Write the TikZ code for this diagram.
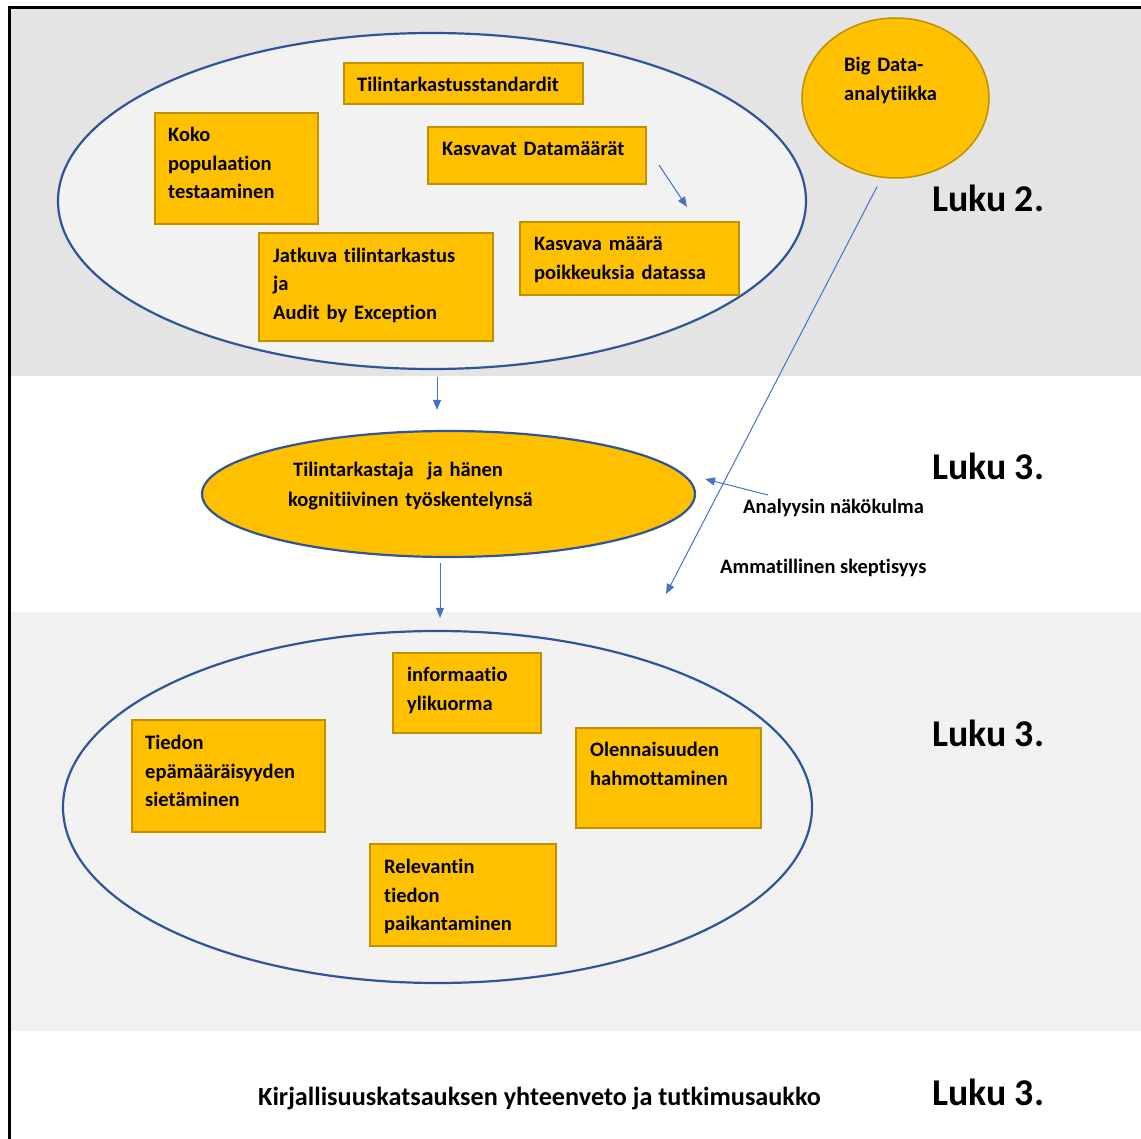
\documentclass[tikz,border=0pt]{standalone}
\usepackage{fontspec}
\setmainfont{Carlito}[Ligatures=NoCommon]
\usetikzlibrary{shapes.geometric,arrows.meta}

\definecolor{bandgray}{HTML}{E4E4E4}
\definecolor{bandlight}{HTML}{F1F1F1}
\definecolor{ovalfill}{HTML}{F2F2F2}
\definecolor{amber}{HTML}{FFC000}
\definecolor{amberdark}{HTML}{BF9000}
\definecolor{navy}{HTML}{2F5597}
\definecolor{arrowblue}{HTML}{4472C4}

% a card: name, top-left x, top-left y, bottom-right x, bottom-right y
\newcommand\mycard[5]{%
  \node[card, minimum width={#4-#2}, minimum height={#5-#3}] (#1) at (#2,#3) {};}

\begin{document}
\begin{tikzpicture}[x=1pt, y=-1pt,
  card/.style={draw=amberdark, fill=amber, line width=2pt, anchor=north west, inner sep=0pt},
  cardtext/.style={anchor=base west, inner sep=0pt, text width=300pt, align=left,
    font=\fontsize{20.5}{28.5}\selectfont\bfseries},
  plain/.style={anchor=base west, inner sep=0pt, font=\fontsize{20.5}{24}\selectfont\bfseries},
  chapter/.style={anchor=base west, inner sep=0pt, font=\fontsize{37.8}{40}\selectfont\bfseries},
  oval/.style={ellipse, inner sep=0pt, line width=2.2pt},
  link/.style={draw=arrowblue, line width=1pt, -{Triangle[length=10pt, width=8pt]}}]

\useasboundingbox (0,0) rectangle (1141,1139);

% horizontal bands and frame
\fill[bandgray] (10,9) rectangle (1141,376);
\fill[bandlight] (10,612) rectangle (1141,1031);
\draw[line width=3pt] (9,1139) -- (9,8) -- (1141,8);

% upper group
\node[oval, draw=navy, fill=ovalfill, minimum width=748, minimum height=336] (upper) at (432,201) {};
\mycard{std}{343}{62}{582}{103}
\node[cardtext] (std-t) at (357,92) {Tilintarkastusstandardit};
\mycard{koko}{154}{112}{317}{223}
\node[cardtext] (koko-t) at (168,142) {Koko\\populaation\\testaaminen};
\mycard{kasv}{427}{126}{645}{183}
\node[cardtext] (kasv-t) at (442,156) {Kasvavat Datamäärät};
\mycard{jatk}{258}{232}{492}{340}
\node[cardtext] (jatk-t) at (273,262.5) {Jatkuva tilintarkastus\\ja\\Audit by Exception};
\mycard{poik}{519}{221}{738}{294}
\node[cardtext] (poik-t) at (534,251) {Kasvava määrä\\poikkeuksia datassa};

% Big Data
\node[oval, line width=1.5pt, draw=amberdark, fill=amber, minimum width=187, minimum height=160] (bigdata) at (895.5,98) {};
\node[cardtext, text width=120pt, font=\fontsize{20.5}{29}\selectfont\bfseries] (bigdata-t) at (844,71.5) {Big Data-\\analytiikka};

% auditor
\node[oval, draw=navy, fill=amber, minimum width=493, minimum height=126] (auditor) at (448.5,494) {};
\node[cardtext, font=\fontsize{20.5}{29}\selectfont\bfseries] (auditor-t) at (288,477) {\hspace*{5pt}Tilintarkastaja\ \ ja hänen\\kognitiivinen työskentelynsä};

% lower group
\node[oval, draw=navy, fill=ovalfill, minimum width=749, minimum height=352] (lower) at (437.5,807) {};
\mycard{info}{392}{652}{540}{732}
\node[cardtext] (info-t) at (407,681.5) {informaatio\\ylikuorma};
\mycard{tiedon}{131}{719}{324}{831}
\node[cardtext] (tiedon-t) at (145,749.5) {Tiedon\\epämääräisyyden\\sietäminen};
\mycard{olenn}{575}{727}{760}{827}
\node[cardtext] (olenn-t) at (590,756.5) {Olennaisuuden\\hahmottaminen};
\mycard{relev}{369}{843}{555}{945}
\node[cardtext] (relev-t) at (384,873.5) {Relevantin\\tiedon\\paikantaminen};

% side labels
\node[plain] (ana) at (743,513) {Analyysin näkökulma};
\node[plain] (amm) at (720,573) {Ammatillinen skeptisyys};
\coordinate (skepsis-end) at (666,594);
\node[plain, font=\fontsize{26.2}{28}\selectfont\bfseries] (summary) at (258,1105) {Kirjallisuuskatsauksen yhteenveto ja tutkimusaukko};

% chapter markers
\node[chapter] (ch2) at (932,212) {Luku 2.};
\node[chapter] (ch3a) at (932,479) {Luku 3.};
\node[chapter] (ch3b) at (932,746) {Luku 3.};
\node[chapter] (ch3c) at (932,1105) {Luku 3.};

% connectors
\draw[link] ([shift={(12,9.5)}]kasv.east) -- ([shift={(168,-14)}]poik.north west);
\draw[link] ([shift={(5,7)}]upper.south) -- ([shift={(-11.5,-20)}]auditor.north);
\draw[link] ([shift={(-8.5,5)}]auditor.south) -- ([shift={(2.5,-12)}]lower.north);
\draw[link] ([shift={(-18.5,8)}]bigdata.south) -- (skepsis-end);
\draw[link] ([shift={(25,-18)}]ana.base west) -- ([shift={(9,-15)}]auditor.east);

\end{tikzpicture}
\end{document}
